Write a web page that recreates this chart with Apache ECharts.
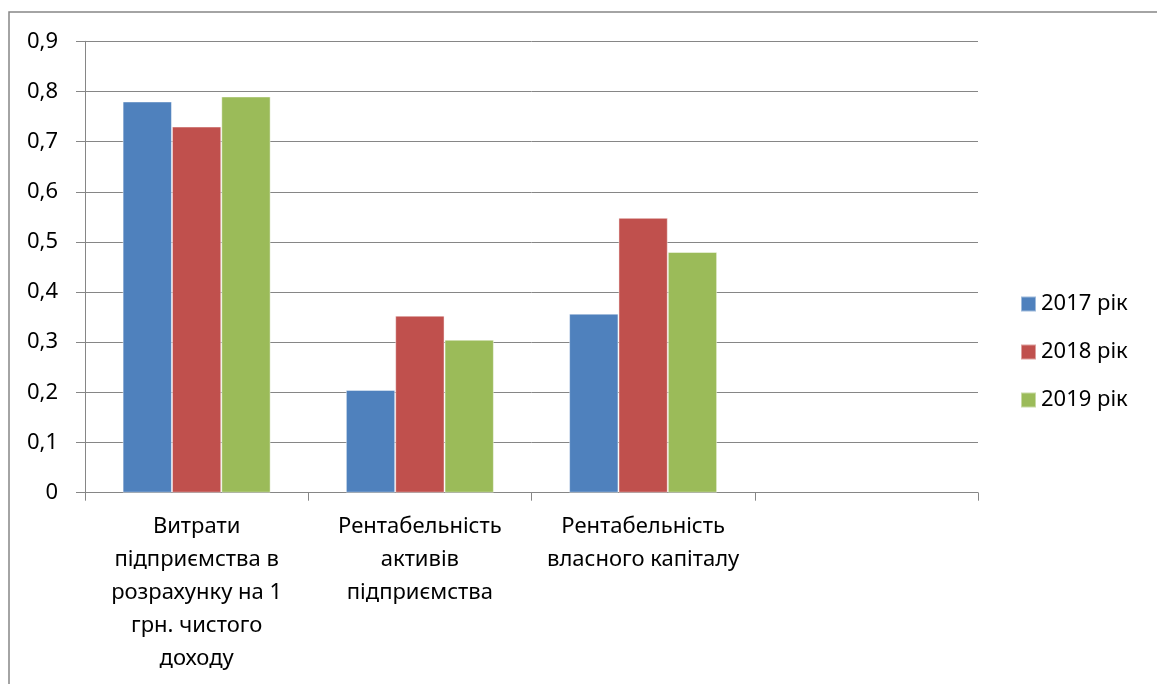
<!DOCTYPE html>
<html>
<head>
<meta charset="utf-8">
<script src="https://cdn.jsdelivr.net/npm/echarts@6/dist/echarts.min.js"></script>
<style>
html,body{margin:0;padding:0;background:#fff;}
#chart{width:1157px;height:684px;}
</style>
</head>
<body>
<div id="chart"></div>
<script>
const categories = [
  "Витрати\nпідприємства в\nрозрахунку на 1\nгрн. чистого\nдоходу",
  "Рентабельність\nактивів\nпідприємства",
  "Рентабельність\nвласного капіталу",
  ""
];
const seriesNames = ["2017 рік", "2018 рік", "2019 рік"];
const values2017 = [0.78, 0.205, 0.357, null];
const values2018 = [0.73, 0.353, 0.548, null];
const values2019 = [0.79, 0.305, 0.48, null];
const colors = ["#4F81BD", "#C0504D", "#9BBB59"];

const FONT = "'Noto Sans', 'DejaVu Sans', sans-serif";
const AXIS_GRAY = "#868686";

const chart = echarts.init(document.getElementById('chart'), null, {renderer: 'canvas'});
const dataSets = [values2017, values2018, values2019];

chart.setOption({
  animation: false,
  backgroundColor: '#ffffff',
  textStyle: {fontFamily: FONT, color: '#000'},
  graphic: [{
    type: 'rect',
    shape: {x: 9, y: 12, width: 1200, height: 720},
    style: {fill: 'none', stroke: AXIS_GRAY, lineWidth: 1.5},
    silent: true,
    z: -10
  }],
  grid: {left: 85, top: 41.3, right: 179, bottom: 191.3, containLabel: false},
  legend: {
    orient: 'vertical',
    left: 1020,
    top: 293,
    padding: 0,
    itemWidth: 15,
    itemHeight: 15,
    itemGap: 26,
    icon: 'rect',
    textStyle: {fontFamily: FONT, fontSize: 22, lineHeight: 22, color: '#000'},
    data: seriesNames
  },
  xAxis: {
    type: 'category',
    data: categories,
    axisLine: {lineStyle: {color: AXIS_GRAY, width: 1}},
    axisTick: {show: true, interval: 0, length: 8, lineStyle: {color: AXIS_GRAY}},
    axisLabel: {
      interval: 0,
      margin: 18,
      fontFamily: FONT,
      fontSize: 22,
      lineHeight: 33,
      color: '#000',
      align: 'center'
    },
    splitLine: {show: false}
  },
  yAxis: {
    type: 'value',
    min: 0,
    max: 0.9,
    interval: 0.1,
    axisLine: {show: true, lineStyle: {color: AXIS_GRAY, width: 1}},
    axisTick: {show: true, length: 9, lineStyle: {color: AXIS_GRAY}},
    axisLabel: {
      margin: 27,
      fontFamily: FONT,
      fontSize: 22,
      color: '#000',
      formatter: function (v) {
        return v === 0 ? '0' : (Math.round(v * 10) / 10).toFixed(1).replace('.', ',');
      }
    },
    splitLine: {show: true, lineStyle: {color: AXIS_GRAY, width: 1}}
  },
  series: seriesNames.map(function (name, i) {
    return {
      name: name,
      type: 'bar',
      data: dataSets[i],
      barGap: '0%',
      barCategoryGap: '33.7%',
      itemStyle: {color: colors[i], borderColor: 'rgba(255,255,255,0.45)', borderWidth: 1}
    };
  })
});
</script>
</body>
</html>
